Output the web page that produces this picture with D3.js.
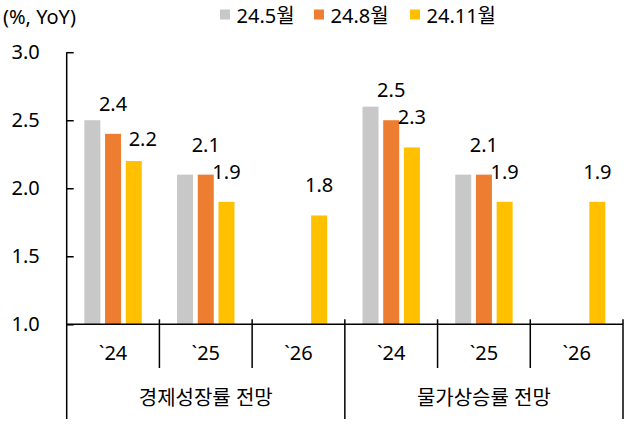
<!DOCTYPE html>
<html><head><meta charset="utf-8">
<script src="https://cdn.jsdelivr.net/npm/d3@7"></script>
<style>
html,body{margin:0;padding:0;background:#fff;}
text{font-family:"Noto Sans","Noto Sans CJK KR",sans-serif;fill:#000;}
</style></head>
<body>
<svg id="c" width="636" height="427"></svg>
<script>
const groups = ["경제성장률 전망", "물가상승률 전망"];
const years = ["`24", "`25", "`26"];
const seriesNames = ["24.5월", "24.8월", "24.11월"];
const may24 = [2.5, 2.1, null, 2.6, 2.1, null];
const aug24 = [2.4, 2.1, null, 2.5, 2.1, null];
const nov24 = [2.2, 1.9, 1.8, 2.3, 1.9, 1.9];
const yTicks = [1.0, 1.5, 2.0, 2.5, 3.0];
const unitLabel = "(%, YoY)";

const colors = ["#c8c8c8", "#ed7d31", "#ffc000"];
const showLabel = [false, true, true];
const seriesVals = [may24, aug24, nov24];
const FONT = '"Noto Sans","Noto Sans CJK KR",sans-serif';

const svg = d3.select("#c");
const L = 66.7, R = 623, T = 52.2, B = 324.3;

const cats = [];
groups.forEach((g, gi) => years.forEach((yr, yi) => cats.push({g, gi, yr, i: gi * years.length + yi})));

const x0 = d3.scaleBand().domain(cats.map(c => c.i)).range([L, R]).padding(0);
const x1 = d3.scalePoint().domain(seriesNames).range([-20.7, 20.7]);
const y = d3.scaleLinear().domain([1, 3]).range([B, T]);
const bw = 16;

// bars
seriesNames.forEach((s, si) => {
  const vals = seriesVals[si];
  svg.append("g").selectAll("rect")
    .data(cats.filter(c => vals[c.i] != null))
    .join("rect")
    .attr("x", c => x0(c.i) + x0.bandwidth() / 2 + x1(s) - bw / 2)
    .attr("width", bw)
    .attr("y", c => y(vals[c.i]))
    .attr("height", c => y(1) - y(vals[c.i]))
    .attr("fill", colors[si]);
});

// value labels
const nudge = {"2|0": [9, 8]};
seriesNames.forEach((s, si) => {
  if (!showLabel[si]) return;
  const vals = seriesVals[si];
  svg.append("g").selectAll("text")
    .data(cats.filter(c => vals[c.i] != null))
    .join("text")
    .attr("x", c => x0(c.i) + x0.bandwidth() / 2 + x1(s) + ((nudge[si + "|" + c.i] || [0, 0])[0]))
    .attr("y", c => y(vals[c.i]) - 30 + ((nudge[si + "|" + c.i] || [0, 0])[1]))
    .attr("dy", "0.35em")
    .attr("text-anchor", "middle")
    .attr("font-size", 20)
    .text(c => vals[c.i].toFixed(1));
});

// y axis
const yAxis = d3.axisLeft(y).tickValues(yTicks).tickFormat(d3.format(".1f"))
  .tickSize(-7).tickSizeOuter(0).tickPadding(27);
const ga = svg.append("g").attr("transform", `translate(${L},0)`).call(yAxis);
ga.select(".domain").remove();
ga.selectAll(".tick line").attr("stroke", "#000").attr("stroke-width", 1.5);
ga.selectAll(".tick text").attr("font-size", 20).attr("font-family", FONT).attr("fill", "#000");
svg.append("line").attr("x1", L).attr("x2", L).attr("y1", T).attr("y2", 419).attr("stroke", "#000").attr("stroke-width", 1.5);

// x axis line
svg.append("line").attr("x1", L).attr("x2", R).attr("y1", B).attr("y2", B).attr("stroke", "#000").attr("stroke-width", 1.5);

// separators
cats.forEach(c => {
  const xr = x0(c.i) + x0.bandwidth();
  const isGroupEnd = (c.i + 1) % years.length === 0;
  svg.append("line").attr("x1", xr).attr("x2", xr)
    .attr("y1", B - 5).attr("y2", isGroupEnd ? 419 : 368)
    .attr("stroke", "#000").attr("stroke-width", 1.5);
});

// year labels
svg.append("g").selectAll("text").data(cats).join("text")
  .attr("x", c => x0(c.i) + x0.bandwidth() / 2)
  .attr("y", 353).attr("dy", "0.35em")
  .attr("text-anchor", "middle").attr("font-size", 20)
  .text(c => c.yr);

// group labels
svg.append("g").selectAll("text").data(groups).join("text")
  .attr("x", (g, gi) => (x0(gi * 3) + x0(gi * 3 + 2) + x0.bandwidth()) / 2)
  .attr("y", 398).attr("dy", "0.35em")
  .attr("text-anchor", "middle").attr("font-size", 20)
  .text(g => g);

// unit label
svg.append("text").attr("x", 3).attr("y", 17).attr("dy", "0.35em").attr("font-size", 20).text(unitLabel);

// legend
const legX = [220, 314, 410];
seriesNames.forEach((s, si) => {
  svg.append("rect").attr("x", legX[si]).attr("y", 9.5).attr("width", 10).attr("height", 10).attr("fill", colors[si]);
  svg.append("text").attr("x", legX[si] + 16.5).attr("y", 16).attr("dy", "0.35em").attr("font-size", 20).text(s);
});
</script>
</body></html>
